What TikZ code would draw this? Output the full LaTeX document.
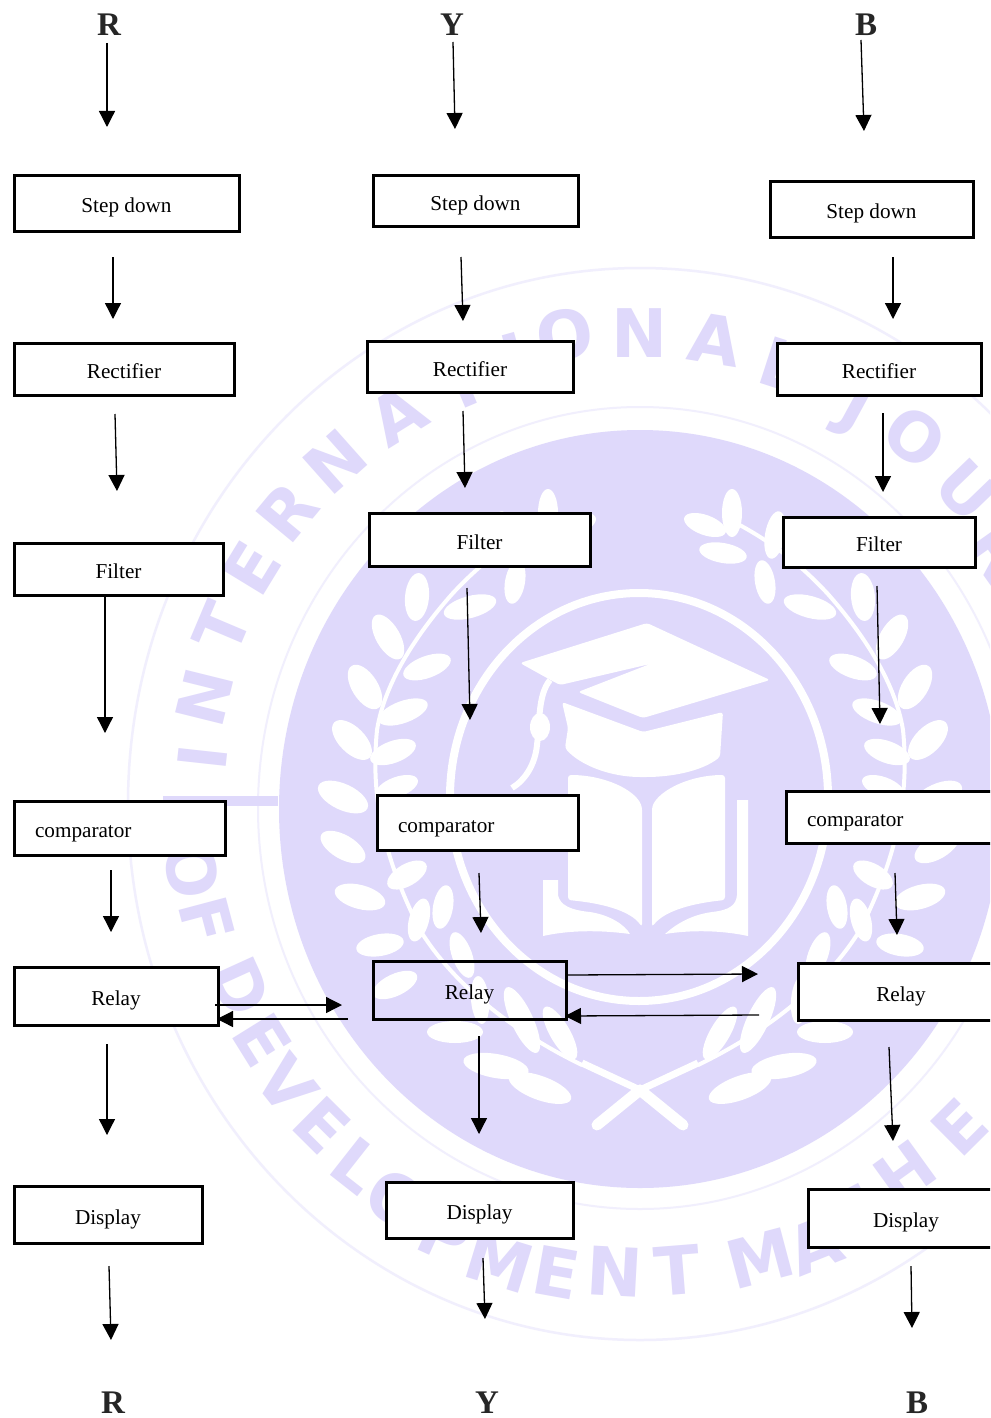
\documentclass[tikz,border=0pt]{standalone}
\usepackage{fontspec}
\setmainfont{Liberation Serif}
\newfontfamily\wmfont{DejaVu Sans}
\usetikzlibrary{arrows.meta}
\definecolor{wm}{HTML}{DFD9FB}
\definecolor{wmlight}{HTML}{F1EFFD}
\tikzset{
  blockbox/.style={draw=black,line width=3pt,fill=white,inner sep=0pt,text height=21pt,text depth=2pt,font=\fontsize{21.2}{25}\selectfont},
  flow/.style={draw=black,line width=1.3pt,-{Triangle[length=16pt,width=16pt]}},
  phase/.style={inner sep=0pt,font=\fontsize{33}{36}\selectfont\bfseries,text=black!85},
  wmletter/.style={inner sep=0pt,text=wm,font=\fontsize{67}{70}\wmfont\bfseries}
}
\newcommand{\blk}[7][]{%
  \pgfmathsetmacro{\bw}{#5-#3-2}\pgfmathsetmacro{\bh}{#6-#4-2}%
  \node[blockbox,minimum width=\bw pt,minimum height=\bh pt,#1] (#2) at ({(#3+#5)/2},{(#4+#6)/2}) {#7};}
\newcommand{\cmp}[6]{%
  \pgfmathsetmacro{\bw}{#4-#2-2-42}\pgfmathsetmacro{\bh}{#5-#3-2}%
  \node[blockbox,text width=\bw pt,inner xsep=21pt,align=left,minimum height=\bh pt] (#1) at ({(#2+#4)/2},{(#3+#5)/2}) {#6};}
\newcommand{\arr}[5]{%
  \coordinate (#1s) at (#2,#3);\coordinate (#1e) at (#4,#5);\draw[flow] (#1s) -- (#1e);}
\newcommand{\lf}[5]{%
  \fill[white,shift={(#1,#2)},rotate=#3] (0,0) ellipse (#4 and #5);%
  \pgfmathsetmacro{\mx}{1280-#1}\pgfmathsetmacro{\mr}{180-#3}%
  \fill[white,shift={(\mx,#2)},rotate=\mr] (0,0) ellipse (#4 and #5);}
\begin{document}
\begin{tikzpicture}[x=1pt,y=-1pt]
\useasboundingbox (0,0) rectangle (990,1418);
\clip (0,0) rectangle (990,1418);
\fill[white] (0,0) rectangle (990,1418);
% watermark rings and disc
\draw[wmlight,line width=2.5pt] (640,804) ellipse (512 and 536);
\draw[wmlight,line width=2pt] (640,808) ellipse (382 and 401);
\fill[wm] (163,796) rectangle (278,806);
\fill[wm] (640,809) ellipse (361 and 379);
\draw[white,line width=8pt] (639,797) ellipse (189 and 204);
% wreath stems
\foreach \m in {1,-1}{
  \begin{scope}[shift={(640,0)},xscale=\m,shift={(-640,0)}]
  \draw[white,line width=4pt] (550,520) .. controls (500,545) and (470,575) .. (453,593) .. controls (420,630) and (385,680) .. (377,730) .. controls (370,800) and (385,860) .. (420,930) .. controls (460,995) and (530,1040) .. (582,1065);
  \draw[white,line width=7pt] (582,1063) -- (640,1090);
  \end{scope}
}
\draw[white,line width=11pt,line cap=round] (640,1090) -- (597,1125);
\draw[white,line width=11pt,line cap=round] (640,1090) -- (683,1125);
% wreath leaves: x, y, rotation, half length, half width
\lf{548}{513}{90}{24}{10}
\lf{575}{525}{20}{22}{10}
\lf{505}{535}{100}{24}{10}
\lf{557}{553}{10}{24}{10}
\lf{515}{582}{80}{22}{10}
\lf{417}{597}{85}{24}{12}
\lf{388}{637}{120}{25}{12}
\lf{365}{687}{122}{25}{13}
\lf{352}{740}{135}{25}{13}
\lf{343}{797}{155}{27}{13}
\lf{343}{847}{150}{25}{12}
\lf{360}{897}{165}{26}{12}
\lf{470}{607}{15}{27}{11}
\lf{427}{667}{20}{25}{11}
\lf{403}{712}{20}{26}{11}
\lf{393}{752}{20}{24}{11}
\lf{397}{787}{20}{22}{10}
\lf{407}{875}{30}{22}{11}
\lf{443}{907}{80}{22}{10}
\lf{419}{920}{75}{22}{10}
\lf{380}{945}{10}{24}{11}
\lf{462}{955}{110}{24}{10}
\lf{395}{985}{25}{24}{11}
\lf{480}{1000}{95}{24}{9}
\lf{455}{1032}{0}{28}{11}
\lf{522}{1020}{115}{36}{11}
\lf{560}{1033}{120}{30}{10}
\lf{496}{1066}{170}{33}{12}
\lf{540}{1088}{160}{33}{12}
% cap and book
\fill[white,rounded corners=3pt] (647,623) -- (770,680) -- (643,718) -- (578,692) -- (650,664) -- (560,685) -- (547,678) -- (520,663) -- cycle;
\fill[white,rounded corners=3pt] (562,702) -- (643,732) -- (723,712) -- (720,757) .. controls (700,772) and (670,777) .. (643,777) .. controls (610,777) and (580,765) .. (565,748) -- (568,728) -- cycle;
\draw[white,line width=6pt] (550,680) .. controls (538,695) and (540,720) .. (537,745) .. controls (535,765) and (525,780) .. (512,788);
\fill[white] (540,727) ellipse (10 and 14);
\fill[white,rounded corners=3pt] (568,775) .. controls (605,775) and (635,790) .. (642,807) -- (642,927) .. controls (630,910) and (600,903) .. (568,900) -- cycle;
\fill[white,rounded corners=3pt] (725,775) .. controls (690,775) and (660,790) .. (652,807) -- (652,927) .. controls (665,910) and (695,903) .. (725,900) -- cycle;
\fill[white] (543,880) -- (558,880) -- (558,895) .. controls (560,905) and (570,910) .. (590,912) .. controls (610,915) and (625,925) .. (630,934) .. controls (600,930) and (570,930) .. (543,936) -- cycle;
\fill[white] (737,800) -- (748,800) -- (748,936) .. controls (720,930) and (690,930) .. (665,934) .. controls (675,925) and (690,915) .. (712,912) .. controls (730,910) and (736,905) .. (737,895) -- cycle;
% watermark letters
\foreach \x/\y/\l [count=\i] in {203/757/I,205/697/N,222/628/T,252/568/E,287/512/R,335/462/N,398/415/A,462/383/T,515/358/I,565/335/O,640/333/N,715/340/A,782/365/L,855/410/J,915/437/O,967/490/U,997/552/R}{
  \pgfmathsetmacro{\rr}{atan2(805-\y,\x-640)-90}
  \node[wmletter,rotate=\rr] (wt\i) at (\x,\y) {\l};
}
\foreach \x/\y/\l [count=\i] in {192/870/O,207/920/F,240/987/D,262/1040/E,287/1085/V,322/1125/E,357/1165/L,397/1200/O,445/1235/P,500/1262/M,556/1272/E,615/1272/N,677/1270/T,760/1258/M,815/1245/A,850/1215/T,905/1172/H,960/1127/E}{
  \pgfmathsetmacro{\rr}{atan2(805-\y,\x-640)+90}
  \node[wmletter,rotate=\rr] (wb\i) at (\x,\y) {\l};
}
% column R
\blk{rstep}{13}{174}{240}{232}{Step down}
\blk{rrect}{13}{342}{235}{396}{Rectifier}
\blk{rfilt}{13}{542}{224}{596}{Filter}
\cmp{rcomp}{13}{800}{226}{856}{comparator}
\blk{rrelay}{13}{966}{219}{1026}{Relay}
\blk{rdisp}{13}{1185}{203}{1244}{Display}
% column Y
\blk{ystep}{372}{174}{579}{227}{Step down}
\blk{yrect}{366}{340}{574}{393}{Rectifier}
\blk{yfilt}{368}{512}{591}{567}{Filter}
\cmp{ycomp}{376}{794}{579}{851}{comparator}
\blk[fill=none]{yrelay}{372}{960}{567}{1020}{Relay}
\blk{ydisp}{385}{1181}{574}{1239}{Display}
% column B
\blk{bstep}{769}{180}{974}{238}{Step down}
\blk{brect}{776}{342}{982}{396}{Rectifier}
\blk{bfilt}{782}{516}{976}{568}{Filter}
\cmp{bcomp}{785}{790}{1010}{844}{comparator}
\blk{brelay}{797}{962}{1005}{1021}{Relay}
\blk{bdisp}{807}{1188}{1005}{1248}{Display}
% phase labels
\node[phase] (r1) at (109,25) {R};
\node[phase] (y1) at (452,25) {Y};
\node[phase] (b1) at (866,25) {B};
\node[phase] (r2) at (113,1403) {R};
\node[phase] (y2) at (487,1403) {Y};
\node[phase] (b2) at (917,1403) {B};
% arrows R
\arr{ra}{107}{43}{107}{127}
\arr{rb}{113}{257}{113}{319}
\arr{rc}{115}{414}{117}{491}
\arr{rd}{105}{596}{105}{733}
\arr{re}{111}{870}{111}{932}
\arr{rf}{107}{1044}{107}{1135}
\arr{rg}{109}{1266}{111}{1340}
% arrows Y
\arr{ya}{453}{42}{455}{129}
\arr{yb}{461}{257}{463}{321}
\arr{yc}{463}{411}{465}{488}
\arr{yd}{467}{588}{470}{720}
\arr{ye}{479}{873}{481}{933}
\arr{yf}{479}{1036}{479}{1134}
\arr{yg}{483}{1258}{485}{1319}
% arrows B
\arr{ba}{861}{40}{864}{131}
\arr{bb}{893}{257}{893}{319}
\arr{bc}{883}{413}{883}{492}
\arr{bd}{877}{586}{880}{724}
\arr{be}{895}{873}{897}{935}
\arr{bf}{889}{1047}{893}{1141}
\arr{bg}{911}{1266}{912}{1328}
% cross links
\arr{ha}{215}{1005}{342}{1005}
\arr{hb}{348}{1019}{217}{1019}
\arr{hc}{567}{975}{758}{974}
\arr{hd}{759}{1015}{565}{1016}
\end{tikzpicture}
\end{document}
